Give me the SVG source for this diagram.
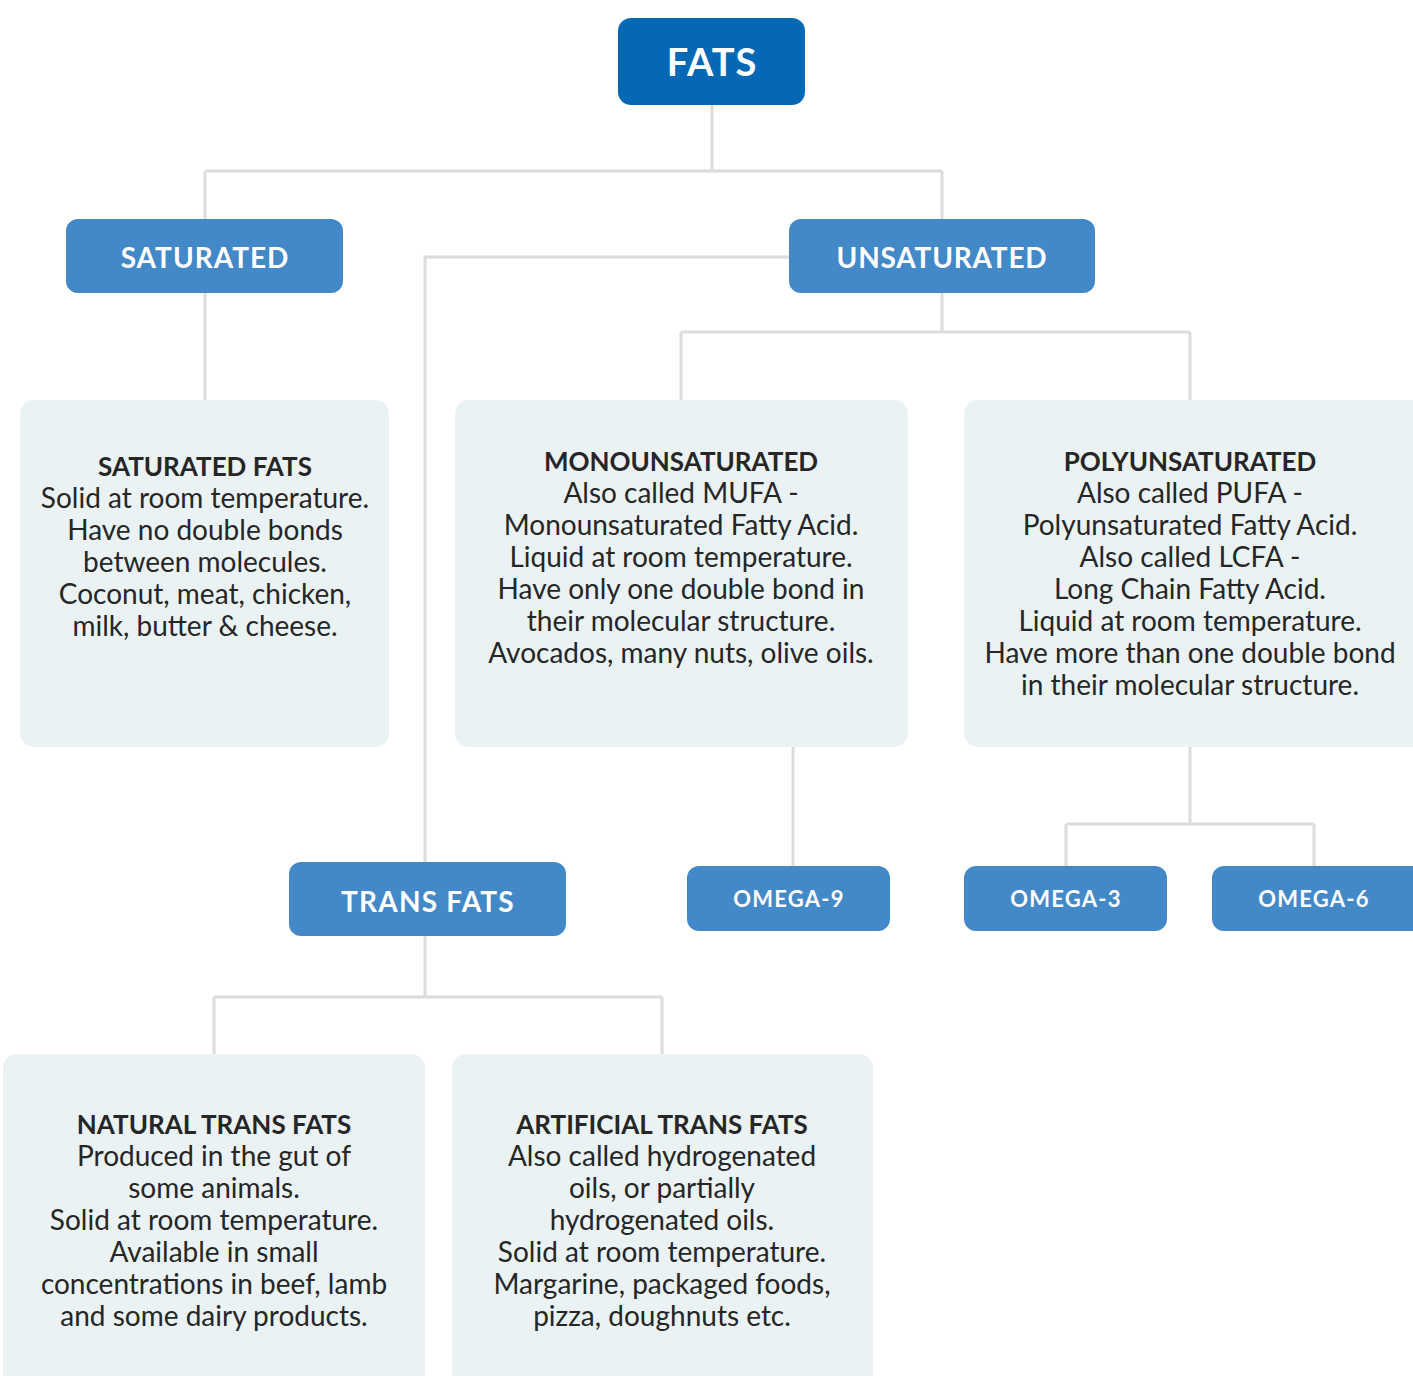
<svg xmlns="http://www.w3.org/2000/svg" width="1413" height="1376" viewBox="0 0 1413 1376">
<style>
.c{fill:none;stroke:#dcdcdc;stroke-width:3}
.top{fill:#0468b4}
.mid{fill:#4389c8}
.card{fill:#eaf2f4}
.tl{font-family:Lato,"Liberation Sans",sans-serif;font-weight:bold;fill:#fff;text-anchor:middle}
.ct{font-family:Lato,"Liberation Sans",sans-serif;font-size:28px;fill:#262626;text-anchor:middle}
.ct .h{font-weight:bold;font-size:26px}
</style>
<rect width="1413" height="1376" fill="#fff"/>
<g id="connectors">
<path class="c" d="M712 105V171M205 171H942M205 171V219M942 171V219"/>
<path class="c" d="M205 293V400"/>
<path class="c" d="M789 257H425V862"/>
<path class="c" d="M942 293V332M681 332H1190M681 332V400M1190 332V400"/>
<path class="c" d="M793 747V866"/>
<path class="c" d="M1190 747V824M1066 824H1314M1066 824V866M1314 824V866"/>
<path class="c" d="M425 936V997M214 997H662M214 997V1054M662 997V1054"/>
</g>
<g id="fats">
<rect class="top" x="618" y="18" width="187" height="87" rx="13"/>
<text class="tl" x="712" y="76" font-size="38" letter-spacing="1">FATS</text>
</g>
<g id="saturated">
<rect class="mid" x="66" y="219" width="277" height="74" rx="12"/>
<text class="tl" x="205" y="268" font-size="28" letter-spacing="1">SATURATED</text>
</g>
<g id="unsaturated">
<rect class="mid" x="789" y="219" width="306" height="74" rx="12"/>
<text class="tl" x="942" y="268" font-size="28" letter-spacing="0.8">UNSATURATED</text>
</g>
<g id="saturated-fats">
<rect class="card" x="20" y="400" width="369" height="347" rx="14"/>
<text class="ct" x="205"><tspan class="h" x="205" y="476">SATURATED FATS</tspan><tspan x="205" y="508">Solid at room temperature.</tspan><tspan x="205" y="540">Have no double bonds</tspan><tspan x="205" y="572">between molecules.</tspan><tspan x="205" y="604">Coconut, meat, chicken,</tspan><tspan x="205" y="636">milk, butter &amp; cheese.</tspan></text>
</g>
<g id="monounsaturated">
<rect class="card" x="455" y="400" width="453" height="347" rx="14"/>
<text class="ct" x="681"><tspan class="h" x="681" y="471">MONOUNSATURATED</tspan><tspan x="681" y="503">Also called MUFA -</tspan><tspan x="681" y="535">Monounsaturated Fatty Acid.</tspan><tspan x="681" y="567">Liquid at room temperature.</tspan><tspan x="681" y="599">Have only one double bond in</tspan><tspan x="681" y="631">their molecular structure.</tspan><tspan x="681" y="663">Avocados, many nuts, olive oils.</tspan></text>
</g>
<g id="polyunsaturated">
<rect class="card" x="964" y="400" width="470" height="347" rx="14"/>
<text class="ct" x="1190"><tspan class="h" x="1190" y="471">POLYUNSATURATED</tspan><tspan x="1190" y="503">Also called PUFA -</tspan><tspan x="1190" y="535">Polyunsaturated Fatty Acid.</tspan><tspan x="1190" y="567">Also called LCFA -</tspan><tspan x="1190" y="599">Long Chain Fatty Acid.</tspan><tspan x="1190" y="631">Liquid at room temperature.</tspan><tspan x="1190" y="663">Have more than one double bond</tspan><tspan x="1190" y="695">in their molecular structure.</tspan></text>
</g>
<g id="trans-fats">
<rect class="mid" x="289" y="862" width="277" height="74" rx="12"/>
<text class="tl" x="428" y="912" font-size="28" letter-spacing="1.2">TRANS FATS</text>
</g>
<g id="omega-9">
<rect class="mid" x="687" y="866" width="203" height="65" rx="12"/>
<text class="tl" x="789" y="907" font-size="22" letter-spacing="1.2">OMEGA-9</text>
</g>
<g id="omega-3">
<rect class="mid" x="964" y="866" width="203" height="65" rx="12"/>
<text class="tl" x="1066" y="907" font-size="22" letter-spacing="1.2">OMEGA-3</text>
</g>
<g id="omega-6">
<rect class="mid" x="1212" y="866" width="220" height="65" rx="12"/>
<text class="tl" x="1314" y="907" font-size="22" letter-spacing="1.2">OMEGA-6</text>
</g>
<g id="natural-trans-fats">
<rect class="card" x="3" y="1054" width="422" height="340" rx="14"/>
<text class="ct" x="214"><tspan class="h" x="214" y="1134">NATURAL TRANS FATS</tspan><tspan x="214" y="1166">Produced in the gut of</tspan><tspan x="214" y="1198">some animals.</tspan><tspan x="214" y="1230">Solid at room temperature.</tspan><tspan x="214" y="1262">Available in small</tspan><tspan x="214" y="1294">concentrations in beef, lamb</tspan><tspan x="214" y="1326">and some dairy products.</tspan></text>
</g>
<g id="artificial-trans-fats">
<rect class="card" x="452" y="1054" width="421" height="340" rx="14"/>
<text class="ct" x="662"><tspan class="h" x="662" y="1134">ARTIFICIAL TRANS FATS</tspan><tspan x="662" y="1166">Also called hydrogenated</tspan><tspan x="662" y="1198">oils, or partially</tspan><tspan x="662" y="1230">hydrogenated oils.</tspan><tspan x="662" y="1262">Solid at room temperature.</tspan><tspan x="662" y="1294">Margarine, packaged foods,</tspan><tspan x="662" y="1326">pizza, doughnuts etc.</tspan></text>
</g>
</svg>
